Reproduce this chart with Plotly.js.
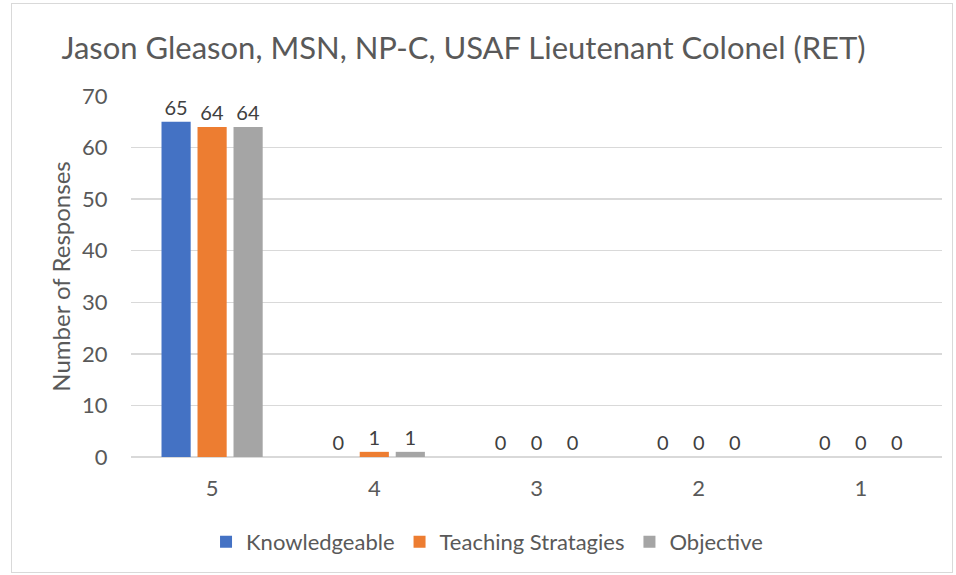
<!DOCTYPE html>
<html>
<head>
<meta charset="utf-8">
<script src="https://cdn.plot.ly/plotly-3.0.1.min.js"></script>
<style>
html,body{margin:0;padding:0;background:#fff;}
#frame{position:absolute;left:11px;top:3px;width:942px;height:570px;border:1.5px solid #d9d9d9;box-sizing:border-box;pointer-events:none;z-index:5;}
#chart{position:absolute;left:0;top:0;width:956px;height:575px;}
</style>
</head>
<body>
<div id="chart"></div>
<div id="frame"></div>
<script>
var categories = ["5", "4", "3", "2", "1"];
var knowledgeable = [65, 0, 0, 0, 0];
var teachingStrategies = [64, 1, 0, 0, 0];
var objective = [64, 1, 0, 0, 0];
var seriesNames = ["Knowledgeable", "Teaching Stratagies", "Objective"];
var seriesColors = ["#4472c4", "#ed7d31", "#a5a5a5"];
var yTicks = [0, 10, 20, 30, 40, 50, 60, 70];

var FONT = "Lato, 'Open Sans', sans-serif";
var vals = [knowledgeable, teachingStrategies, objective];
var traces = vals.map(function (v, i) {
  return {
    type: "bar",
    x: categories,
    y: v,
    name: seriesNames[i],
    marker: { color: seriesColors[i] },
    text: v.map(String),
    textposition: "outside",
    cliponaxis: false,
    textfont: { family: FONT, size: 20, color: "#404040" },
    hoverinfo: "none"
  };
});

var layout = {
  width: 956,
  height: 575,
  margin: { l: 131, r: 14, t: 96, b: 118 },
  paper_bgcolor: "rgba(0,0,0,0)",
  plot_bgcolor: "#fff",
  font: { family: FONT, color: "#595959" },
  title: {
    text: "Jason Gleason, MSN, NP-C, USAF Lieutenant Colonel (RET)",
    font: { family: FONT, size: 31, color: "#595959" },
    x: (62 + 865) / 2 / 956, xanchor: "center", xref: "container",
    y: 1 - 48 / 575, yanchor: "middle", yref: "container"
  },
  barmode: "group",
  bargap: 0.334,
  bargroupgap: 0.19,
  showlegend: true,
  legend: {
    orientation: "h",
    x: 0.439, xanchor: "center",
    y: -0.235, yanchor: "middle",
    font: { family: FONT, size: 22, color: "#595959" },
    itemwidth: 30,
    traceorder: "normal"
  },
  xaxis: {
    type: "category",
    categoryorder: "array",
    categoryarray: categories,
    showgrid: false,
    showline: false,
    ticks: "",
    ticklabelstandoff: 16,
    tickfont: { family: FONT, size: 22, color: "#595959" },
    zeroline: false,
    fixedrange: true
  },
  yaxis: {
    range: [0, 70],
    tickvals: yTicks,
    ticktext: yTicks.map(String),
    showgrid: true,
    gridcolor: "#d9d9d9",
    gridwidth: 1.5,
    zeroline: true,
    zerolinecolor: "#d9d9d9",
    zerolinewidth: 1.5,
    showline: false,
    ticks: "outside",
    ticklen: 12,
    tickcolor: "rgba(0,0,0,0)",
    ticklabelstandoff: 6,
    tickfont: { family: FONT, size: 22, color: "#595959" },
    title: {
      text: "Number of Responses",
      font: { family: FONT, size: 24, color: "#595959" },
      standoff: 4
    },
    automargin: false,
    fixedrange: true
  }
};

Plotly.newPlot("chart", traces, layout, { staticPlot: true, displayModeBar: false });
</script>
</body>
</html>
